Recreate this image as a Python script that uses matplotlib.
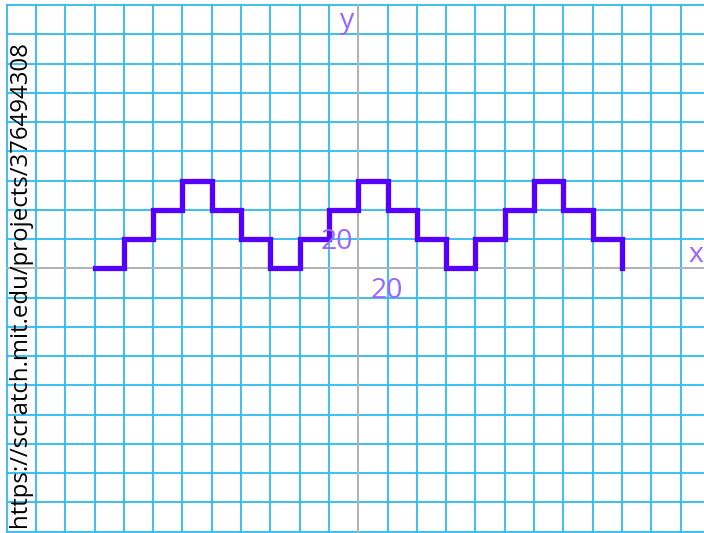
import numpy as np
import matplotlib
matplotlib.use('Agg')
import matplotlib.pyplot as plt

# step path (scratch stage units)
step_x = [-180, -160, -140, -120, -100, -80, -60, -40, -20, 0,
          20, 40, 60, 80, 100, 120, 140, 160, 180]
step_y = [0, 20, 40, 60, 40, 20, 0, 20, 40, 60,
          40, 20, 0, 20, 40, 60, 40, 20, 0]

axis_names = ['x', 'y']
tick_text = ['20', '20']
url = 'https://scratch.mit.edu/projects/376494308'

W, H = 704, 533
grid_col = '#2DBBEF'
axis_col = '#B4B4B4'
label_col = '#9966FF'
line_col = '#5500FF'


def main():
    plt.rcParams['font.family'] = ['Open Sans', 'DejaVu Sans']

    fig = plt.figure(figsize=(W / 100, H / 100), dpi=100)
    ax = fig.add_axes([0, 0, 1, 1])

    # stage is 480x360, shifted a little inside the image
    sx = (358.3 - 6.7) / 240
    sy = (531.7 - 5.0) / 360
    ax.set_xlim(-240 - 6.7 / sx, -240 + (W - 6.7) / sx)
    ax.set_ylim(-180 - (H - 531.7) / sy, 180 + 5.0 / sy)

    # grid only inside the stage
    for gx in np.arange(-240, 241, 20):
        ax.plot([gx, gx], [-180, 180], color=grid_col, lw=1.3, zorder=1)
    for gy in np.arange(-180, 181, 20):
        ax.plot([-240, 240], [gy, gy], color=grid_col, lw=1.3, zorder=1)
    ax.plot([-240, 240], [0, 0], color=axis_col, lw=1.4, zorder=2)
    ax.plot([0, 0], [-180, 180], color=axis_col, lw=1.4, zorder=2)

    ax.step(step_x, step_y, where='post', color=line_col, lw=3.8,
            solid_capstyle='projecting', solid_joinstyle='miter', zorder=4)

    ax.text(230.5, 4.3, axis_names[0], color=label_col, fontsize=20.5,
            ha='center', va='baseline', zorder=5)
    ax.text(-7.7, 164, axis_names[1], color=label_col, fontsize=20.5,
            ha='center', va='baseline', zorder=5)
    ax.text(-3.8, 13.5, tick_text[1], color=label_col, fontsize=20.5,
            ha='right', va='baseline', zorder=5)
    ax.text(19.6, -20, tick_text[0], color=label_col, fontsize=20.5,
            ha='center', va='baseline', zorder=5)

    fig.text(8 / W, 1 - 527 / H, url, rotation=90, fontsize=17.3,
             color='black', ha='left', va='bottom', zorder=6)

    ax.axis('off')
    fig.savefig('out.png', dpi=100)


if __name__ == "__main__":
    main()
